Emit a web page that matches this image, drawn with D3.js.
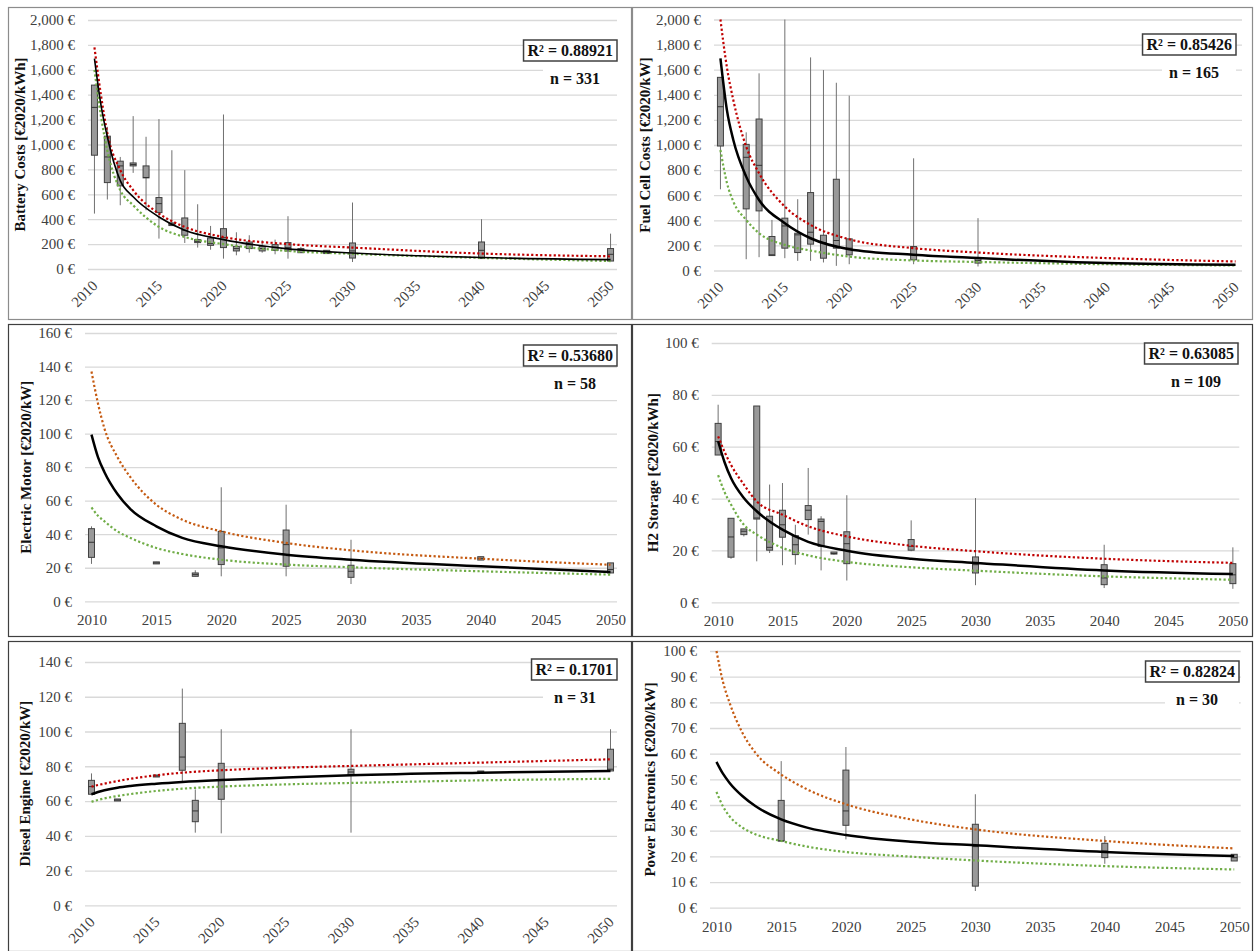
<!DOCTYPE html>
<html>
<head>
<meta charset="utf-8">
<script src="https://cdn.jsdelivr.net/npm/d3@7"></script>
<style>
body { margin: 0; background: #fff; }
</style>
</head>
<body>
<div id="chart"></div>
<script>
var trendYears = [2010, 2010.5, 2011, 2012, 2013, 2015, 2017, 2020, 2025, 2030, 2040, 2050];
var xTickYears = [2010, 2015, 2020, 2025, 2030, 2035, 2040, 2045, 2050];

// boxes: [year, min, q1, median, q3, max]
var batteryBoxes = [
  [2010, 445, 914, 1298, 1477, 1480], [2011, 558, 694, 900, 1067, 1142],
  [2012, 512, 668, 828, 866, 900], [2013, 772, 828, 839, 852, 1228],
  [2014, 472, 732, 735, 828, 1062], [2015, 244, 453, 525, 574, 1204],
  [2016, 349, 349, 360, 370, 954], [2017, 209, 271, 311, 410, 794],
  [2018, 172, 212, 222, 236, 520], [2019, 155, 190, 204, 249, 346],
  [2020, 83, 172, 252, 324, 1241], [2021, 110, 145, 164, 182, 295],
  [2022, 131, 164, 196, 217, 271], [2023, 131, 145, 164, 182, 231],
  [2024, 118, 150, 174, 196, 236], [2025, 83, 145, 172, 212, 424],
  [2026, 131, 131, 150, 164, 177], [2028, 124, 124, 137, 150, 150],
  [2030, 56, 88, 145, 209, 534], [2040, 84, 84, 150, 217, 400],
  [2050, 64, 64, 118, 164, 284]
];
var batteryFit   = [1690, 1320, 1060, 710, 580, 418, 311, 236, 162, 129, 92, 75];
var batteryUpper = [1780, 1400, 1090, 795, 633, 445, 338, 257, 200, 172, 124, 102];
var batteryLower = [1600, 1230, 950, 633, 512, 338, 257, 200, 145, 122, 89, 64];

var fuelCellBoxes = [
  [2010, 647, 992, 1305, 1539, 1539], [2012, 90, 491, 902, 1005, 1101],
  [2013, 106, 475, 838, 1207, 1571], [2014, 119, 119, 125, 271, 403],
  [2015, 98, 178, 355, 417, 2000], [2016, 77, 143, 284, 297, 568],
  [2017, 77, 210, 305, 621, 1698], [2018, 64, 98, 223, 281, 1597],
  [2019, 37, 178, 239, 727, 1496], [2020, 50, 125, 178, 252, 1393],
  [2025, 50, 85, 125, 191, 894], [2030, 32, 59, 80, 99, 417]
];
var fuelCellFit   = [1690, 1280, 1040, 748, 562, 377, 257, 170, 125, 99, 59, 45];
var fuelCellUpper = [2000, 1620, 1358, 987, 775, 509, 363, 249, 178, 143, 99, 72];
var fuelCellLower = [960, 700, 549, 403, 297, 204, 159, 111, 80, 68, 50, 40];

var motorBoxes = [
  [2010, 22.3, 26.2, 35.2, 43.3, 44.7], [2015, 22.3, 22.3, 22.9, 23.5, 23.5],
  [2018, 14.9, 14.9, 15.9, 16.9, 18.5], [2020, 14.9, 21.9, 31.8, 41.7, 68],
  [2025, 14.9, 20.9, 33.8, 42.5, 57.6], [2030, 10.3, 14.3, 17.9, 21.5, 36.7],
  [2040, 24.6, 24.6, 25.6, 26.6, 26.6], [2050, 16.9, 16.9, 19, 22.9, 22.9]
];
var motorFit   = [99.4, 86, 77, 64, 55, 44.7, 37.8, 32.8, 27.8, 24.8, 20.9, 17.5];
var motorUpper = [137, 118, 103, 86, 74, 57.6, 48.7, 41.7, 34.8, 30.4, 25.4, 21.8];
var motorLower = [56, 51, 47.7, 41.7, 37.8, 31.8, 28.2, 24.8, 21.9, 20.3, 17.9, 15.9];

var h2Boxes = [
  [2010, 56.8, 56.8, 62, 69, 76.2], [2011, 16.8, 17.4, 25.2, 32.4, 32.4],
  [2012, 25.4, 26.1, 27.4, 28.3, 28.3], [2013, 15.8, 32.1, 32.5, 75.7, 75.7],
  [2014, 19, 20.1, 21.2, 33.2, 45.4], [2015, 14.3, 25.1, 29.9, 35.5, 46],
  [2016, 14.5, 18.4, 22.2, 25.7, 29.9], [2017, 26.1, 31.9, 35.5, 37.3, 51.8],
  [2018, 12.3, 21.6, 31.2, 32.1, 33.2], [2019, 18.4, 18.4, 18.8, 19, 19],
  [2020, 8.4, 14.9, 22.6, 27.2, 41.3], [2025, 19.7, 20.1, 21.6, 24.2, 31.6],
  [2030, 6.6, 11.3, 14.5, 17.5, 40.2], [2040, 5.5, 6.8, 9.4, 14.5, 22.2],
  [2050, 5.2, 7.2, 10.6, 14.9, 21.2]
];
var h2Fit   = [62.1, 54, 47.9, 40.2, 35.1, 28, 23.3, 19.9, 16.8, 15.2, 12.3, 10.9];
var h2Upper = [64, 58, 53, 45.4, 38.9, 33.8, 29.3, 25.4, 21.8, 19.7, 16.8, 15.2];
var h2Lower = [49, 42.5, 37.7, 29.9, 26.1, 21, 18.1, 15.6, 13.5, 12.2, 10, 8.7];

var dieselBoxes = [
  [2010, 63.3, 63.9, 68.3, 71.9, 75.9], [2012, 60.6, 60.6, 60.6, 60.6, 60.6],
  [2015, 74.4, 74.4, 74.4, 74.4, 74.4], [2017, 71.2, 77.7, 85.3, 104.7, 124.7],
  [2018, 41.8, 48.1, 54.3, 60.4, 66.7], [2020, 41.4, 61, 72.1, 81.7, 101.3],
  [2030, 41.8, 74.8, 76.7, 78.3, 101.3], [2040, 76.7, 76.7, 76.7, 76.7, 76.7],
  [2050, 77.3, 77.3, 78.3, 89.8, 101.3]
];
var dieselFit   = [63.9, 65.2, 66.2, 67.7, 68.7, 70, 71, 72.1, 73.5, 74.8, 76.3, 77.3];
var dieselUpper = [68.3, 69.2, 70, 71.5, 72.8, 74.8, 76.3, 77.7, 79.2, 80.2, 82.1, 84];
var dieselLower = [59.6, 60.6, 61.5, 62.9, 64, 65.8, 67.1, 68.3, 69.6, 70.4, 71.9, 72.8];

var powerBoxes = [
  [2015, 26, 26, 26, 41.8, 57.1], [2020, 26.6, 32.1, 37.7, 53.6, 62.6],
  [2030, 6.5, 8.4, 23.8, 32.5, 44.2], [2040, 17.1, 19.5, 22.1, 25.1, 27.9],
  [2050, 18.2, 18.2, 19.5, 20.8, 20.8]
];
var powerFit   = [56.8, 52.2, 48.7, 43.5, 39.6, 34.4, 31.2, 28.3, 25.7, 24.3, 21.7, 20.1];
var powerUpper = [100, 88, 80, 68.2, 60.4, 51.9, 46.1, 40.3, 34.4, 30.5, 26, 23.1];
var powerLower = [45.1, 39.5, 35.7, 31.2, 28.6, 26, 23.8, 21.7, 19.9, 18.4, 16.2, 14.9];

var panelTitles = ["Battery Costs [€2020/kWh]", "Fuel Cell Costs [€2020/kW]", "Electric Motor [€2020/kW]",
                   "H2 Storage [€2020/kWh]", "Diesel Engine [€2020/kW]", "Power Electronics [€2020/kW]"];
var panelR2 = ["0.88921", "0.85426", "0.53680", "0.63085", "0.1701", "0.82824"];
var panelN = [331, 165, 58, 109, 31, 30];
var panelYMax = [2000, 2000, 160, 100, 140, 100];
var panelYStep = [200, 200, 20, 20, 20, 10];

var panelBoxes = [batteryBoxes, fuelCellBoxes, motorBoxes, h2Boxes, dieselBoxes, powerBoxes];
var panelFit = [batteryFit, fuelCellFit, motorFit, h2Fit, dieselFit, powerFit];
var panelUpper = [batteryUpper, fuelCellUpper, motorUpper, h2Upper, dieselUpper, powerUpper];
var panelLower = [batteryLower, fuelCellLower, motorLower, h2Lower, dieselLower, powerLower];

// page geometry
var layout = [
  {frame: [8, 7, 631, 319], left: 88, right: 617, top: 20, bottom: 269, rot: true, titleX: 20, boxTop: 40, boxRight: 617, frameColor: "#8c8c8c", upColor: "#c00000", fitW: 1.6},
  {frame: [632, 7, 1252, 319], left: 714, right: 1242, top: 19.5, bottom: 270.5, rot: true, titleX: 645, boxTop: 34, boxRight: 1236, frameColor: "#8c8c8c", upColor: "#c00000", fitW: 2.5},
  {frame: [8, 324, 631, 636], left: 85, right: 617, top: 333, bottom: 601.3, rot: false, titleX: 26, boxTop: 345, boxRight: 617, frameColor: "#3f3f3f", upColor: "#c55a11", fitW: 2.5},
  {frame: [632, 324, 1252, 636], left: 711.7, right: 1239.3, top: 343, bottom: 602.3, rot: false, titleX: 653, boxTop: 343, boxRight: 1238, frameColor: "#3f3f3f", upColor: "#c00000", fitW: 2.5},
  {frame: [8, 641, 631, 951], left: 85, right: 617, top: 662, bottom: 905.3, rot: true, titleX: 25, boxTop: 659, boxRight: 617, frameColor: "#3f3f3f", upColor: "#c00000", fitW: 2.5},
  {frame: [632, 641, 1252, 951], left: 710, right: 1240.7, top: 651, bottom: 907.7, rot: false, titleX: 650, boxTop: 661, boxRight: 1239, frameColor: "#3f3f3f", upColor: "#c55a11", fitW: 2.5}
];

var serif = "'Liberation Serif', 'Times New Roman', serif";
var width = 1254, height = 951;

var svg = d3.select("#chart").append("svg")
  .attr("width", width)
  .attr("height", height)
  .style("background", "#fff");

function drawPanel(i) {
  var L = layout[i];
  var g = svg.append("g");

  g.append("rect")
    .attr("x", L.frame[0] + 0.5).attr("y", L.frame[1] + 0.5)
    .attr("width", L.frame[2] - L.frame[0]).attr("height", L.frame[3] - L.frame[1])
    .attr("fill", "#fff").attr("stroke", L.frameColor).attr("stroke-width", 1.2);

  var x = d3.scaleLinear().domain([2009.5, 2050.5]).range([L.left, L.right]);
  var y = d3.scaleLinear().domain([0, panelYMax[i]]).range([L.bottom, L.top]);

  var yAxis = g.append("g")
    .attr("transform", "translate(" + L.left + ",0)")
    .call(d3.axisLeft(y)
      .tickValues(d3.range(0, panelYMax[i] + 1, panelYStep[i]))
      .tickSize(-(L.right - L.left))
      .tickPadding(13)
      .tickFormat(function(d) { return d3.format(",")(d) + " €"; }));
  yAxis.select(".domain").remove();
  yAxis.selectAll("line").attr("stroke", "#d9d9d9").attr("stroke-width", 1.3);
  yAxis.selectAll("text")
    .attr("font-family", serif).attr("font-size", 15).attr("fill", "#404040");

  var xAxis = g.append("g")
    .attr("transform", "translate(0," + L.bottom + ")")
    .call(d3.axisBottom(x).tickValues(xTickYears).tickSize(0).tickFormat(d3.format("d")));
  xAxis.select(".domain").remove();
  var xt = xAxis.selectAll("text")
    .attr("font-family", serif).attr("font-size", 15).attr("fill", "#404040");
  if (L.rot) {
    xt.attr("y", 0).attr("dy", "0.35em")
      .attr("text-anchor", "end")
      .attr("transform", "translate(0,14) rotate(-45)");
  } else {
    xt.attr("y", 24).attr("dy", 0);
  }

  g.append("text")
    .attr("transform", "translate(" + L.titleX + "," + ((L.top + L.bottom) / 2) + ") rotate(-90)")
    .attr("text-anchor", "middle").attr("dy", "0.35em")
    .attr("font-family", serif).attr("font-size", 15).attr("font-weight", "bold")
    .attr("fill", "#111")
    .text(panelTitles[i]);

  // box plots
  var bw = 6;
  var boxes = g.append("g").selectAll("g")
    .data(panelBoxes[i])
    .join("g");
  boxes.append("line")
    .attr("x1", function(d) { return x(d[0]); })
    .attr("x2", function(d) { return x(d[0]); })
    .attr("y1", function(d) { return y(d[1]); })
    .attr("y2", function(d) { return y(d[5]); })
    .attr("stroke", "#707070").attr("stroke-width", 1);
  boxes.append("rect")
    .attr("x", function(d) { return x(d[0]) - bw / 2; })
    .attr("y", function(d) { var h = y(d[2]) - y(d[4]); return h < 2 ? y(d[4]) - 1 : y(d[4]); })
    .attr("width", bw)
    .attr("height", function(d) { return Math.max(2, y(d[2]) - y(d[4])); })
    .attr("fill", "#999").attr("stroke", "#404040").attr("stroke-width", 1);
  boxes.append("line")
    .attr("x1", function(d) { return x(d[0]) - bw / 2; })
    .attr("x2", function(d) { return x(d[0]) + bw / 2; })
    .attr("y1", function(d) { return y(d[3]); })
    .attr("y2", function(d) { return y(d[3]); })
    .attr("stroke", "#333").attr("stroke-width", 1);

  // fitted curves
  var line = d3.line()
    .x(function(d) { return x(d[0]); })
    .y(function(d) { return y(d[1]); })
    .curve(d3.curveMonotoneX);
  function pairs(vals) { return trendYears.map(function(t, k) { return [t, vals[k]]; }); }

  g.append("path").datum(pairs(panelLower[i]))
    .attr("d", line).attr("fill", "none")
    .attr("stroke", "#70ad47").attr("stroke-width", 2.2).attr("stroke-dasharray", "2.2,2.3");
  g.append("path").datum(pairs(panelUpper[i]))
    .attr("d", line).attr("fill", "none")
    .attr("stroke", L.upColor).attr("stroke-width", 2.2).attr("stroke-dasharray", "2.2,2.3");
  g.append("path").datum(pairs(panelFit[i]))
    .attr("d", line).attr("fill", "none")
    .attr("stroke", "#000").attr("stroke-width", L.fitW);

  // R² box and n label
  var nx = L.boxRight - 42, ny = L.boxTop + 38;
  var nText = g.append("text")
    .attr("x", nx).attr("y", ny).attr("dy", "0.35em")
    .attr("text-anchor", "middle")
    .attr("font-family", serif).attr("font-size", 16).attr("font-weight", "bold")
    .attr("fill", "#111")
    .text("n = " + panelN[i]);
  g.insert("rect", function() { return nText.node(); })
    .attr("x", nx - 32).attr("y", ny - 13)
    .attr("width", L.boxRight - nx + 32).attr("height", 23)
    .attr("fill", "#fff");

  var rText = g.append("text")
    .attr("x", L.boxRight - 4).attr("y", L.boxTop + 10.5).attr("dy", "0.35em")
    .attr("text-anchor", "end")
    .attr("font-family", serif).attr("font-size", 16).attr("font-weight", "bold")
    .attr("fill", "#111")
    .text("R² = " + panelR2[i]);
  var tw = rText.node().getComputedTextLength();
  g.insert("rect", function() { return rText.node(); })
    .attr("x", L.boxRight - tw - 8).attr("y", L.boxTop)
    .attr("width", tw + 8).attr("height", 21)
    .attr("fill", "#fff").attr("stroke", "#404040").attr("stroke-width", 1.5);
}

for (var i = 0; i < 6; i++) drawPanel(i);
</script>
</body>
</html>
